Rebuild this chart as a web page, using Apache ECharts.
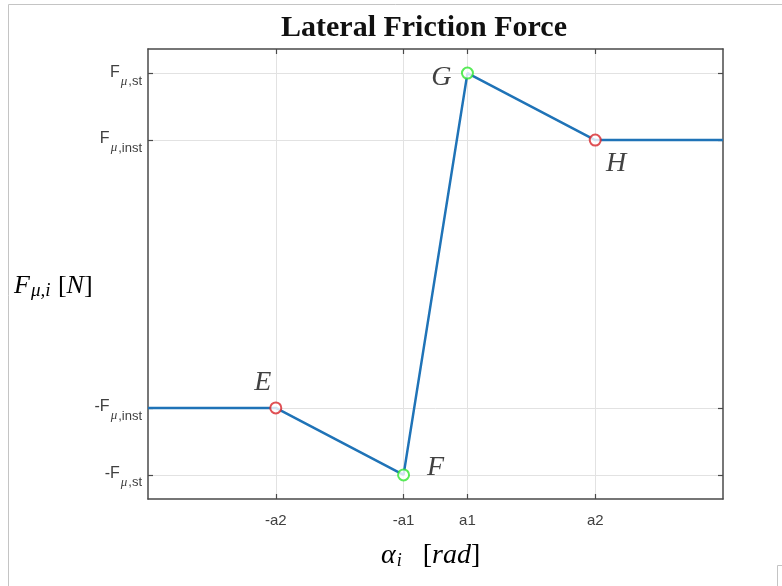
<!DOCTYPE html>
<html>
<head>
<meta charset="utf-8">
<script src="https://cdn.jsdelivr.net/npm/echarts@6/dist/echarts.min.js"></script>
<style>
html, body { margin: 0; padding: 0; background: #fff; }
#chart { width: 782px; height: 586px; }
</style>
</head>
<body>
<div id="chart"></div>
<script>
// x in units of a1 (a2 = 5*a1), force in units where F_inst = 2, F_st = 3
var xTicks = [-5, -1, 1, 5];
var xTickNames = ['-a2', '-a1', 'a1', 'a2'];
var yTicks = [-3, -2, 2, 3];
var yTickHeads = ['-F', '-F', 'F', 'F'];
var yTickSubs = [',st', ',inst', ',inst', ',st'];

var curveX = [-9, -5, -1, 1, 5, 9];
var curveY = [-2, -2, -3, 3, 2, 2];

var pointNames = ['E', 'F', 'G', 'H'];
var pointX = [-5, -1, 1, 5];
var pointY = [-2, -3, 3, 2];

var pointColors = ['#d8262b', '#2fe62f', '#2fe62f', '#d8262b'];
var labelOffsets = [[-13, -25], [32, -7], [-26, 5], [21, 24]];

var tickFont = 'Liberation Sans, Arial, sans-serif';
var mathFont = 'Liberation Serif, Times New Roman, serif';

function initChart() {
	var myChart = echarts.init(document.getElementById('chart'));

	var curve = [];
	for (var i = 0; i < curveX.length; i++) {
		curve.push([curveX[i], curveY[i]]);
	}
	var points = [];
	for (var j = 0; j < pointX.length; j++) {
		points.push({
			value: [pointX[j], pointY[j]],
			name: pointNames[j],
			itemStyle: { color: pointColors[j], borderColor: pointColors[j] },
			label: { offset: labelOffsets[j] }
		});
	}

	var axisLine = { show: true, onZero: false, lineStyle: { color: '#4a4a4a', width: 1.5 } };
	var tickStyle = { color: '#4a4a4a', width: 1.2 };

	var option = {
		animation: false,
		backgroundColor: '#fff',
		title: {
			text: 'Lateral Friction Force',
			left: 419,
			top: 8,
			textAlign: 'center',
			textStyle: {
				fontFamily: mathFont,
				fontWeight: 'bold',
				fontSize: 30,
				color: '#111'
			}
		},
		grid: { left: 148, right: 59, top: 49, bottom: 87 },
		xAxis: [{
			type: 'value',
			min: -9,
			max: 9,
			position: 'bottom',
			axisLine: axisLine,
			axisTick: { show: true, inside: true, length: 5, customValues: xTicks, lineStyle: tickStyle },
			axisLabel: {
				show: true,
				customValues: xTicks,
				margin: 14,
				fontFamily: tickFont,
				fontSize: 15,
				color: '#404040',
				formatter: function(v) {
					return xTickNames[xTicks.indexOf(v)];
				}
			},
			splitLine: { show: true, lineStyle: { color: '#e2e2e2', width: 1 } }
		}, {
			type: 'value',
			min: -9,
			max: 9,
			position: 'top',
			axisLine: axisLine,
			axisTick: { show: true, inside: true, length: 5, customValues: xTicks, lineStyle: tickStyle },
			axisLabel: { show: false },
			splitLine: { show: false }
		}],
		yAxis: [{
			type: 'value',
			min: -3.36,
			max: 3.36,
			position: 'left',
			axisLine: axisLine,
			axisTick: { show: true, inside: true, length: 5, customValues: yTicks, lineStyle: tickStyle },
			axisLabel: {
				show: true,
				customValues: yTicks,
				margin: 6,
				formatter: function(v) {
					var k = yTicks.indexOf(v);
					return '{m|' + yTickHeads[k] + '}{u|μ}{s|' + yTickSubs[k] + '}';
				},
				rich: {
					m: { fontFamily: tickFont, fontSize: 16, color: '#404040', lineHeight: 16, padding: [0, 0, 2, 0] },
					u: { fontFamily: mathFont, fontStyle: 'italic', fontSize: 13, color: '#404040', lineHeight: 12, padding: [16, 1, 0, 1] },
					s: { fontFamily: tickFont, fontSize: 13, color: '#404040', lineHeight: 12, padding: [16, 0, 0, 0] }
				}
			},
			splitLine: { show: true, lineStyle: { color: '#e2e2e2', width: 1 } }
		}, {
			type: 'value',
			min: -3.36,
			max: 3.36,
			position: 'right',
			axisLine: axisLine,
			axisTick: { show: true, inside: true, length: 5, customValues: yTicks, lineStyle: tickStyle },
			axisLabel: { show: false },
			splitLine: { show: false }
		}],
		series: [{
			name: 'friction',
			type: 'line',
			xAxisIndex: 0,
			yAxisIndex: 0,
			data: curve,
			symbol: 'none',
			lineStyle: { color: '#1f73b7', width: 2.5 },
			z: 2
		}, {
			name: 'points',
			type: 'scatter',
			xAxisIndex: 0,
			yAxisIndex: 0,
			data: points,
			symbol: 'emptyCircle',
			symbolSize: 11,
			itemStyle: { borderWidth: 2.6 },
			label: {
				show: true,
				position: 'inside',
				formatter: '{b}',
				fontFamily: mathFont,
				fontStyle: 'italic',
				fontSize: 28,
				color: '#111'
			},
			z: 3
		}],
		graphic: [{
			type: 'text',
			left: 14,
			top: 269,
			style: {
				text: '{a|F}{i|μ,i}{b| [}{a|N}{b|]}',
				rich: {
					a: { fontFamily: mathFont, fontStyle: 'italic', fontSize: 26, color: '#111', lineHeight: 27, verticalAlign: 'top' },
					i: { fontFamily: mathFont, fontStyle: 'italic', fontSize: 19, color: '#111', lineHeight: 19, verticalAlign: 'bottom', padding: [12, 1, 0, 1] },
					b: { fontFamily: mathFont, fontSize: 26, color: '#111', lineHeight: 27, verticalAlign: 'top' }
				}
			}
		}, {
			type: 'text',
			left: 381,
			top: 538,
			style: {
				text: '{a|α}{i|i}{b|   [}{a|rad}{b|]}',
				rich: {
					a: { fontFamily: mathFont, fontStyle: 'italic', fontSize: 28, color: '#111', lineHeight: 28, verticalAlign: 'top' },
					i: { fontFamily: mathFont, fontStyle: 'italic', fontSize: 18, color: '#111', lineHeight: 18, verticalAlign: 'bottom', padding: [14, 0, 0, 1] },
					b: { fontFamily: mathFont, fontSize: 28, color: '#111', lineHeight: 28, verticalAlign: 'top' }
				}
			}
		}, {
			type: 'polyline',
			shape: { points: [[8.5, 586], [8.5, 4.5], [782, 4.5]] },
			style: { stroke: '#c4c4c4', lineWidth: 1, fill: null }
		}, {
			type: 'polyline',
			shape: { points: [[782, 565.5], [777.5, 565.5], [777.5, 586]] },
			style: { stroke: '#c4c4c4', lineWidth: 1, fill: null }
		}]
	};
	myChart.setOption(option);
	window.onresize = function() {
		myChart.resize();
	};
}

initChart();
</script>
</body>
</html>
